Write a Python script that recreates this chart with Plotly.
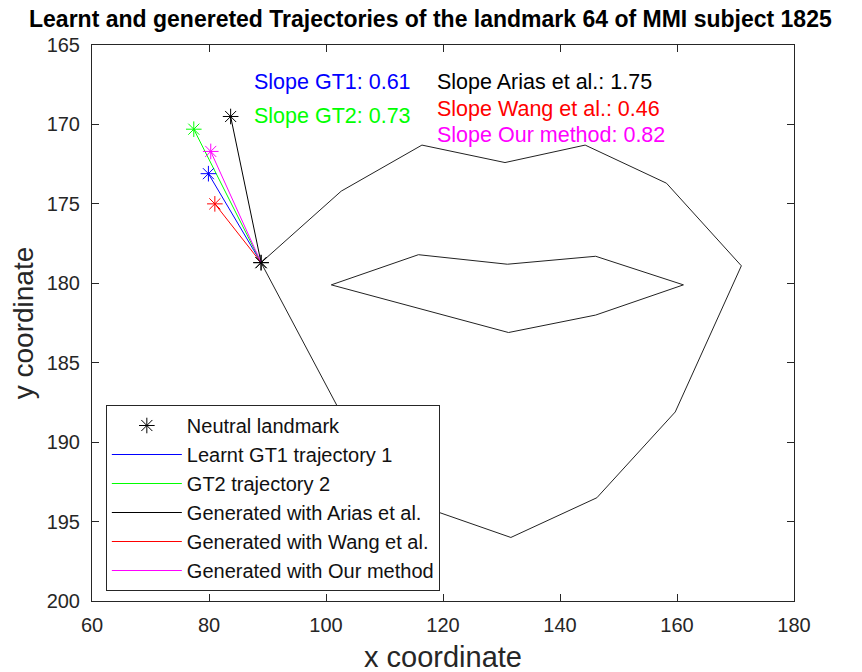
import plotly.graph_objects as go

# ---- data ----
outer_lip_x = [88.9, 102.6, 116.4, 130.6, 144.3, 158.2, 171.0, 159.7, 146.3, 131.6, 109.8, 88.9]
outer_lip_y = [178.7, 174.2, 171.3, 172.4, 171.3, 173.7, 178.9, 188.1, 193.5, 196.0, 193.2, 178.7]
inner_lip_x = [100.9, 115.8, 131.0, 146.1, 161.1, 146.1, 131.2, 100.9]
inner_lip_y = [180.1, 178.2, 178.8, 178.3, 180.1, 182.0, 183.1, 180.1]

neutral_x = [88.9]
neutral_y = [178.7]

methods = ["Learnt GT1 trajectory 1", "GT2 trajectory 2", "Generated with Arias et al.",
           "Generated with Wang et al.", "Generated with Our method"]
end_x = [79.9, 77.4, 83.7, 81.0, 80.3]
end_y = [173.1, 170.3, 169.5, 175.0, 171.7]
colors = ["#0000ff", "#00ff00", "#000000", "#ff0000", "#ff00ff"]

slope_labels = ["Slope GT1: 0.61", "Slope GT2: 0.73", "Slope Arias et al.: 1.75",
                "Slope Wang et al.: 0.46", "Slope Our method: 0.82"]
slope_x = [87.3, 87.3, 118.6, 118.6, 118.6]
slope_y = [167.35, 169.5, 167.35, 169.0, 170.65]

x_ticks = [60, 80, 100, 120, 140, 160, 180]
y_ticks = [165, 170, 175, 180, 185, 190, 195, 200]

FONT = "Liberation Sans, Arial, sans-serif"
AX = "#262626"
MK = 13

fig = go.Figure()

# lip contours
fig.add_trace(go.Scatter(x=outer_lip_x, y=outer_lip_y, mode="lines",
                         line=dict(color="#222222", width=1), showlegend=False, hoverinfo="skip"))
fig.add_trace(go.Scatter(x=inner_lip_x, y=inner_lip_y, mode="lines",
                         line=dict(color="#222222", width=1), showlegend=False, hoverinfo="skip"))

# neutral landmark
fig.add_trace(go.Scatter(x=neutral_x, y=neutral_y, mode="markers", name="Neutral landmark",
                         marker=dict(symbol="asterisk-open", size=MK, color="black",
                                     line=dict(color="black", width=1))))

for i, name in enumerate(methods):
    fig.add_trace(go.Scatter(x=[neutral_x[0], end_x[i]], y=[neutral_y[0], end_y[i]], mode="lines",
                             name=name, line=dict(color=colors[i], width=1)))
for i, name in enumerate(methods):
    fig.add_trace(go.Scatter(x=[end_x[i]], y=[end_y[i]], mode="markers", showlegend=False,
                             marker=dict(symbol="asterisk-open", size=MK, color=colors[i],
                                         line=dict(color=colors[i], width=1))))

# neutral marker on top again
fig.add_trace(go.Scatter(x=neutral_x, y=neutral_y, mode="markers", showlegend=False,
                         marker=dict(symbol="asterisk-open", size=MK, color="black",
                                     line=dict(color="black", width=1))))

for i, t in enumerate(slope_labels):
    fig.add_annotation(x=slope_x[i], y=slope_y[i], xref="x", yref="y", text=t,
                       showarrow=False, xanchor="left", yanchor="middle",
                       font=dict(family=FONT, size=21.5, color=colors[i]))

fig.update_layout(
    width=862, height=672,
    margin=dict(l=82, r=76, t=37, b=79),
    paper_bgcolor="white", plot_bgcolor="white",
    font=dict(family=FONT, color=AX),
    title=dict(text="<b>Learnt and genereted Trajectories of the landmark 64 of MMI subject 1825</b>",
               x=0.49, xref="container", xanchor="center", y=1, yanchor="top",
               pad=dict(t=3, b=0, l=0, r=0),
               font=dict(family=FONT, size=23, color="black")),
    xaxis=dict(range=[60, 180], tickvals=x_ticks, ticks="inside", ticklen=7, tickcolor=AX,
               showline=True, linecolor=AX, linewidth=1, mirror="ticks", showgrid=False,
               zeroline=False, tickfont=dict(size=20, color=AX), ticklabelstandoff=6,
               title=dict(text="x coordinate", font=dict(size=29, color=AX), standoff=11)),
    yaxis=dict(range=[200, 165], tickvals=y_ticks, ticks="inside", ticklen=7, tickcolor=AX,
               showline=True, linecolor=AX, linewidth=1, mirror="ticks", showgrid=False,
               zeroline=False, tickfont=dict(size=20, color=AX), ticklabelstandoff=7,
               title=dict(text="y coordinate", font=dict(size=28, color=AX), standoff=7)),
    legend=dict(x=0.0197, y=0.3525, xanchor="left", yanchor="top", bgcolor="white",
                bordercolor=AX, borderwidth=1, font=dict(family=FONT, size=20, color="#111111"),
                tracegroupgap=0, itemwidth=70),
)

fig.write_html("out.html")
